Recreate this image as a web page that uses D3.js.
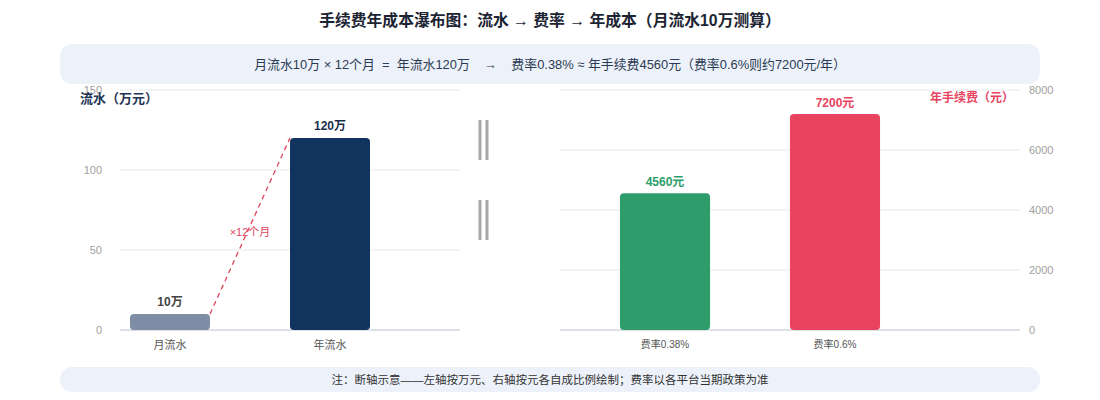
<!DOCTYPE html>
<html>
<head>
<meta charset="utf-8">
<script src="https://cdn.jsdelivr.net/npm/d3@7"></script>
<style>
  body { margin: 0; background: #fff; }
  svg { font-family: "Liberation Sans", "Noto Sans CJK SC", sans-serif; }
</style>
</head>
<body>
<div id="chart"></div>
<script>
// data
var flowCats = ["月流水", "年流水"]
var flowVals = [10, 120]
var flowLabels = ["10万", "120万"]
var flowTicks = [0, 50, 100, 150]

var feeCats = ["费率0.38%", "费率0.6%"]
var feeVals = [4560, 7200]
var feeLabels = ["4560元", "7200元"]
var feeTicks = [0, 2000, 4000, 6000, 8000]

var width = 1100
var height = 400

var svg = d3.select("#chart").append("svg")
    .attr("width", width)
    .attr("height", height)

// title
svg.append("text")
    .attr("x", width / 2).attr("y", 26)
    .attr("text-anchor", "middle")
    .attr("font-size", 15.8).attr("font-weight", "bold")
    .attr("fill", "#1c2433")
    .text("手续费年成本瀑布图：流水 → 费率 → 年成本（月流水10万测算）")

// top banner
svg.append("rect")
    .attr("x", 60).attr("y", 44).attr("width", 980).attr("height", 40)
    .attr("rx", 12).attr("fill", "#edf2fa")
svg.append("text")
    .attr("x", width / 2).attr("y", 69)
    .attr("text-anchor", "middle")
    .attr("font-size", 12.9).attr("fill", "#2b3b55")
    .attr("xml:space", "preserve")
    .text("月流水10万 × 12个月  =  年流水120万    →    费率0.38% ≈ 年手续费4560元（费率0.6%则约7200元/年）")

var y0 = 330, y1 = 90

// ---- left panel: flow
var xL = d3.scaleBand().domain(flowCats).range([90, 410]).paddingInner(0.5).paddingOuter(0.25)
var yL = d3.scaleLinear().domain([0, 150]).range([y0, y1])

var left = svg.append("g")

left.selectAll(".gridL").data(flowTicks.slice(1)).enter().append("line")
    .attr("x1", 120).attr("x2", 460)
    .attr("y1", d => yL(d)).attr("y2", d => yL(d))
    .attr("stroke", "#eef0f3").attr("stroke-width", 1.5)

left.selectAll(".tickL").data(flowTicks).enter().append("text")
    .attr("x", 102).attr("y", d => yL(d) + 4)
    .attr("text-anchor", "end")
    .attr("font-size", 11).attr("fill", "#a0a0a0")
    .text(d => d)

left.append("line")
    .attr("x1", 120).attr("x2", 460).attr("y1", y0).attr("y2", y0)
    .attr("stroke", "#dde0e6").attr("stroke-width", 2)

var flowColors = ["#7f8ea6", "#11345e"]
left.selectAll(".barL").data(flowVals).enter().append("rect")
    .attr("x", (d, i) => xL(flowCats[i]))
    .attr("y", d => yL(d))
    .attr("width", xL.bandwidth())
    .attr("height", d => y0 - yL(d))
    .attr("rx", 4)
    .attr("fill", (d, i) => flowColors[i])

var flowLabelColors = ["#444", "#1a2e4d"]
left.selectAll(".lblL").data(flowVals).enter().append("text")
    .attr("x", (d, i) => xL(flowCats[i]) + xL.bandwidth() / 2)
    .attr("y", d => yL(d) - 8)
    .attr("text-anchor", "middle")
    .attr("font-size", 12).attr("font-weight", "bold")
    .attr("fill", (d, i) => flowLabelColors[i])
    .text((d, i) => flowLabels[i])

left.selectAll(".catL").data(flowCats).enter().append("text")
    .attr("x", d => xL(d) + xL.bandwidth() / 2)
    .attr("y", 349)
    .attr("text-anchor", "middle")
    .attr("font-size", 11).attr("fill", "#555")
    .text(d => d)

// dashed connector: top-right of month bar -> top-left of year bar
left.append("line")
    .attr("x1", xL(flowCats[0]) + xL.bandwidth()).attr("y1", yL(flowVals[0]))
    .attr("x2", xL(flowCats[1])).attr("y2", yL(flowVals[1]))
    .attr("stroke", "#e0435c").attr("stroke-width", 1.3)
    .attr("stroke-dasharray", "5,4")
left.append("text")
    .attr("x", 250).attr("y", 236)
    .attr("text-anchor", "middle")
    .attr("font-size", 11).attr("fill", "#e0435c")
    .text("×12个月")

left.append("text")
    .attr("x", 80).attr("y", 103)
    .attr("font-size", 13).attr("font-weight", "bold")
    .attr("fill", "#1e3356")
    .text("流水（万元）")

// break marks
var breaks = [[120, 160], [200, 240]]
breaks.forEach(function (b) {
    [480, 487].forEach(function (x) {
        svg.append("line")
            .attr("x1", x).attr("x2", x).attr("y1", b[0]).attr("y2", b[1])
            .attr("stroke", "#a8a8a8").attr("stroke-width", 3)
    })
})

// ---- right panel: fee
var xR = d3.scaleBand().domain(feeCats).range([580, 920]).paddingInner(0.47).paddingOuter(0.235)
var yR = d3.scaleLinear().domain([0, 8000]).range([y0, y1])

var right = svg.append("g")

right.selectAll(".gridR").data(feeTicks.slice(1)).enter().append("line")
    .attr("x1", 560).attr("x2", 1020)
    .attr("y1", d => yR(d)).attr("y2", d => yR(d))
    .attr("stroke", "#eef0f3").attr("stroke-width", 1.5)

right.selectAll(".tickR").data(feeTicks).enter().append("text")
    .attr("x", 1029).attr("y", d => yR(d) + 4)
    .attr("font-size", 11).attr("fill", "#a0a0a0")
    .text(d => d)

right.append("line")
    .attr("x1", 560).attr("x2", 1020).attr("y1", y0).attr("y2", y0)
    .attr("stroke", "#dde0e6").attr("stroke-width", 2)

var feeColors = ["#2e9d6b", "#e8445f"]
right.selectAll(".barR").data(feeVals).enter().append("rect")
    .attr("x", (d, i) => xR(feeCats[i]))
    .attr("y", d => yR(d))
    .attr("width", xR.bandwidth())
    .attr("height", d => y0 - yR(d))
    .attr("rx", 4)
    .attr("fill", (d, i) => feeColors[i])

right.selectAll(".lblR").data(feeVals).enter().append("text")
    .attr("x", (d, i) => xR(feeCats[i]) + xR.bandwidth() / 2)
    .attr("y", d => yR(d) - 7)
    .attr("text-anchor", "middle")
    .attr("font-size", 12).attr("font-weight", "bold")
    .attr("fill", (d, i) => feeColors[i])
    .text((d, i) => feeLabels[i])

right.selectAll(".catR").data(feeCats).enter().append("text")
    .attr("x", d => xR(d) + xR.bandwidth() / 2)
    .attr("y", 348)
    .attr("text-anchor", "middle")
    .attr("font-size", 10).attr("fill", "#555")
    .text(d => d)

right.append("text")
    .attr("x", 1014).attr("y", 102)
    .attr("text-anchor", "end")
    .attr("font-size", 12).attr("font-weight", "bold")
    .attr("fill", "#e8445f")
    .text("年手续费（元）")

// bottom note
svg.append("rect")
    .attr("x", 60).attr("y", 367).attr("width", 980).attr("height", 25)
    .attr("rx", 12).attr("fill", "#edf2fa")
svg.append("text")
    .attr("x", width / 2).attr("y", 384)
    .attr("text-anchor", "middle")
    .attr("font-size", 11.5).attr("fill", "#333")
    .text("注：断轴示意——左轴按万元、右轴按元各自成比例绘制；费率以各平台当期政策为准")
</script>
</body>
</html>
